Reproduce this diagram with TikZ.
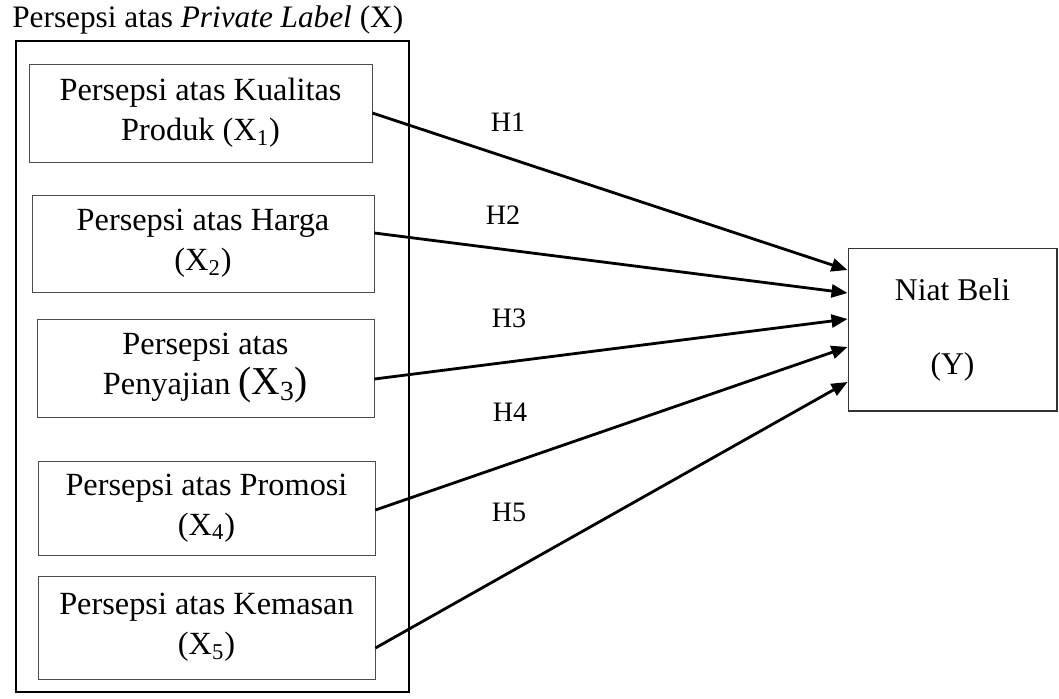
\documentclass[tikz,border=0pt]{standalone}
\usepackage{fontspec}
\setmainfont{Liberation Serif}
\usetikzlibrary{positioning, arrows.meta}

\begin{document}
\begin{tikzpicture}[
                x=0.02cm, y=-0.02cm,
                >={Triangle[length=0.32cm, width=0.26cm]},
                varbox/.style={draw=black!70, line width=0.5pt, align=center, inner sep=0pt, font=\fontsize{18.4}{22.8}\selectfont},
                depbox/.style={draw=black!80, line width=0.6pt, align=center, inner sep=0pt, minimum width=4.18cm, minimum height=3.26cm, font=\fontsize{18}{22.8}\selectfont},
                hyp/.style={->, line width=1.6pt},
                hlabel/.style={font=\fontsize{16}{18}\selectfont},
            ]
                \useasboundingbox (0,0) rectangle (1059,698);

                % Draw the group of independent variables
                \node[anchor=base west, inner sep=0pt, font=\fontsize{17.8}{20}\selectfont] (title) at (12,27) {Persepsi atas \textit{Private Label} (X)};
                \draw[line width=0.7pt] (16,41) rectangle (409,692);

                \node[varbox, minimum width=6.86cm, minimum height=1.96cm] (X-1) at (200.5,113) {Persepsi atas Kualitas\\Produk (X\textsubscript{1})};
                \node[varbox, minimum width=6.84cm, minimum height=1.94cm] (X-2) at (203,243.5) {Persepsi atas Harga\\(X\textsubscript{2})};
                \node[varbox, minimum width=6.74cm, minimum height=1.96cm] (X-3) at (205.5,368) {Persepsi atas\\Penyajian {\fontsize{22.5}{22.8}\selectfont(X\textsubscript{3})}};
                \node[varbox, minimum width=6.74cm, minimum height=1.88cm] (X-4) at (206.5,508) {Persepsi atas Promosi\\(X\textsubscript{4})};
                \node[varbox, minimum width=6.74cm, minimum height=2.06cm] (X-5) at (206.5,627.5) {Persepsi atas Kemasan\\(X\textsubscript{5})};

                % Draw the dependent variable
                \node[depbox] (Y) at (952.5,329.5) {Niat Beli\\[0.68cm](Y)};

                % Connect every variable with the dependent variable
                \foreach \src / \from / \to in {1/0cm/1.19cm, 2/0.21cm/0.73cm, 3/-0.22cm/0.21cm, 4/-0.04cm/-0.35cm, 5/-0.41cm/-1.05cm}
                    \draw[hyp] ([yshift=\from]X-\src.east) -- ([yshift=\to]Y.west);

                % Hypothesis labels
                \foreach \name / \x / \y in {1/508/122, 2/503/215, 3/509/318, 4/510/412, 5/509/512}
                    \node[hlabel] (H-\name) at (\x,\y) {H\name};
            \end{tikzpicture}
\end{document}
